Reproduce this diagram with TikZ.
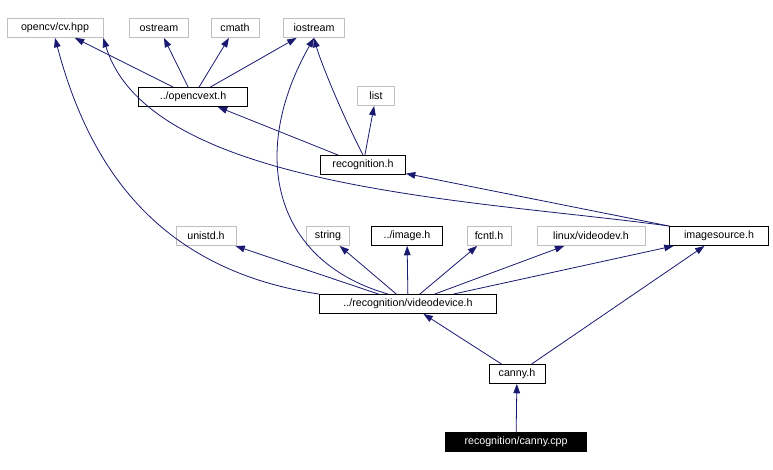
\documentclass[tikz,border=0pt]{standalone}
\usepackage{fontspec}
\setmainfont{Liberation Sans}
\usetikzlibrary{arrows.meta}
\definecolor{edge}{RGB}{25,25,112}
\definecolor{gb}{RGB}{191,191,191}
\begin{document}
\begin{tikzpicture}[x=0.75pt,y=-0.75pt,
 every node/.style={font=\fontsize{8}{10}\selectfont,minimum height=14.5pt,inner xsep=3pt,inner ysep=0pt,anchor=center},
 g/.style={draw=gb,fill=white},
 b/.style={draw=black,fill=white},
 e/.style={draw=edge,-{Triangle[length=7pt,width=5pt]},semithick}]
\useasboundingbox (0,0) rectangle (773,470);
\node[g,minimum width=72pt] (cv) at (55,28) {opencv/cv.hpp};
\node[g,minimum width=44pt] (os) at (159,28) {ostream};
\node[g,minimum width=36pt] (cm) at (235,28) {cmath};
\node[g,minimum width=46pt] (io) at (314,28) {iostream};
\node[b,minimum width=82pt] (ext) at (193,97) {../opencvext.h};
\node[g,minimum width=28pt] (li) at (376,96) {list};
\node[b,minimum width=64pt] (rec) at (363,165) {recognition.h};
\node[g,minimum width=45pt] (un) at (206,236) {unistd.h};
\node[g,minimum width=32pt] (st) at (328,236) {string};
\node[b,minimum width=53pt] (im) at (407,236) {../image.h};
\node[g,minimum width=33pt] (fc) at (489,236) {fcntl.h};
\node[g,minimum width=81pt] (lv) at (591,236) {linux/videodev.h};
\node[b,minimum width=74pt] (is) at (719,236) {imagesource.h};
\node[b,minimum width=133pt] (vd) at (408,304) {../recognition/videodevice.h};
\node[b,minimum width=42pt] (ca) at (517,374) {canny.h};
\node[draw=black,fill=black,text=white,minimum width=106pt] (cpp) at (516,442) {recognition/canny.cpp};

\draw[e] (cpp) -- (ca);
\draw[e] (ca) -- (vd);
\draw[e] (ca) -- (is);
\draw[e] (vd) -- (un);
\draw[e] (vd) -- (st);
\draw[e] (vd) -- (im);
\draw[e] (vd) -- (fc);
\draw[e] (vd) -- (lv);
\draw[e] (vd) -- (is);
\draw[e] (vd.north west) .. controls (160,270) and (90,170) .. (cv.south);
\draw[e] (vd.north) ++(-20,0) .. controls (270,260) and (250,150) .. (io.south);
\draw[e] (is.north west) .. controls (480,200) and (150,190) .. (cv.south east);
\draw[e] (is) -- (rec);
\draw[e] (rec) -- (ext);
\draw[e] (rec) -- (li);
\draw[e] (rec.north) .. controls (340,110) and (320,60) .. (io.south);
\draw[e] (ext) -- (cv);
\draw[e] (ext) -- (os);
\draw[e] (ext) -- (cm);
\draw[e] (ext) -- (io);
\end{tikzpicture}
\end{document}
